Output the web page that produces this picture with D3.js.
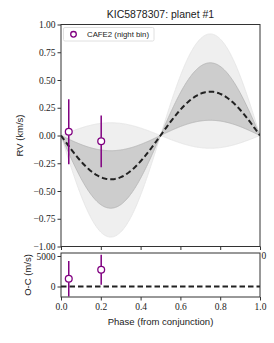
<!DOCTYPE html>
<html>
<head>
<meta charset="utf-8">
<script src="https://cdn.jsdelivr.net/npm/d3@7"></script>
<style>
  body { margin: 0; background: #fff; }
</style>
</head>
<body>
<script>
// data
var phase = [0.039, 0.202];
var rv = [0.034, -0.052];
var rvErr = [0.293, 0.233];
var oc = [1270, 2750];
var ocErr = [2900, 2450];

// model: rv = -K sin(2 pi phase)
var kMed = 0.395;
var kInner = [0.137, 0.655];
var kOuter = [-0.115, 0.915];

var rvTicks = [1.0, 0.75, 0.5, 0.25, 0, -0.25, -0.5, -0.75, -1.0];
var ocTicks = [5000, 0];
var phaseTicks = [0, 0.2, 0.4, 0.6, 0.8, 1.0];

var width = 274, height = 343;
var left = 61, right = 260;
var top1 = 24.5, bot1 = 246.5;
var top2 = 253, bot2 = 297;
var purple = "#800080";
var ink = "#333";
var serif = "'Liberation Serif', 'DejaVu Serif', serif";
var sans = "'Liberation Sans', 'DejaVu Sans', sans-serif";

var svg = d3.select("body").append("svg")
	.attr("width", width)
	.attr("height", height);

var x = d3.scaleLinear().domain([0, 1]).range([left, right]);
var y = d3.scaleLinear().domain([-1, 1]).range([bot1, top1]);
var y2 = d3.scaleLinear().domain([-1720, 5490]).range([bot2, top2]);

var grid = d3.range(0, 1.0001, 0.005);
function model(k) { return function(p) { return -k * Math.sin(2 * Math.PI * p); }; }

function styleAxis(g) {
	g.select(".domain").remove();
	g.selectAll("line").style("stroke", ink);
	g.selectAll("text")
		.style("font-family", serif)
		.style("font-size", "9.5px")
		.style("fill", "#222");
}

svg.append("clipPath").attr("id", "clip1")
	.append("rect").attr("x", left).attr("y", top1).attr("width", right - left).attr("height", bot1 - top1);

var g1 = svg.append("g").attr("clip-path", "url(#clip1)");

function band(k, fill, stroke) {
	var a = model(k[0]), b = model(k[1]);
	g1.append("path")
		.datum(grid)
		.attr("d", d3.area()
			.x(function(p) { return x(p); })
			.y0(function(p) { return y(a(p)); })
			.y1(function(p) { return y(b(p)); }))
		.style("fill", fill)
		.style("stroke", stroke)
		.style("stroke-width", 0.8);
}
band(kOuter, "#efefef", "#e4e4e4");
band(kInner, "#cdcdcd", "#b5b5b5");

var med = model(kMed);
g1.append("path")
	.datum(grid)
	.attr("d", d3.line().x(function(p) { return x(p); }).y(function(p) { return y(med(p)); }))
	.style("fill", "none")
	.style("stroke", "#222")
	.style("stroke-width", 2)
	.style("stroke-dasharray", "5.5,3");

// rv points
svg.selectAll(".rv-err")
	.data(phase)
	.enter()
	.append("line")
	.attr("class", "rv-err")
	.attr("x1", function(d) { return x(d); })
	.attr("x2", function(d) { return x(d); })
	.attr("y1", function(d, i) { return y(rv[i] - rvErr[i]); })
	.attr("y2", function(d, i) { return y(rv[i] + rvErr[i]); })
	.style("stroke", purple)
	.style("stroke-width", 1.5);

svg.selectAll(".rv-pt")
	.data(phase)
	.enter()
	.append("circle")
	.attr("class", "rv-pt")
	.attr("cx", function(d) { return x(d); })
	.attr("cy", function(d, i) { return y(rv[i]); })
	.attr("r", 3.4)
	.style("fill", "#fff")
	.style("stroke", purple)
	.style("stroke-width", 1.3);

// top panel frame + axes
svg.append("rect")
	.attr("x", left).attr("y", top1).attr("width", right - left).attr("height", bot1 - top1)
	.style("fill", "none").style("stroke", ink).style("stroke-width", 1);

svg.append("g")
	.attr("transform", "translate(" + left + ",0)")
	.call(d3.axisLeft(y).tickValues(rvTicks).tickFormat(d3.format(".2f")).tickSize(3.5).tickPadding(2))
	.call(styleAxis);

svg.append("g")
	.attr("transform", "translate(0," + bot1 + ")")
	.call(d3.axisBottom(x).tickValues(phaseTicks).tickFormat("").tickSize(3.5))
	.call(styleAxis);

// legend
var lg = svg.append("g");
lg.append("rect")
	.attr("x", 63.5).attr("y", 27.5).attr("width", 90.5).attr("height", 13.5).attr("rx", 1.5)
	.style("fill", "#fff").style("stroke", "#d8d8d8").style("stroke-width", 0.8);
lg.append("circle")
	.attr("cx", 73.5).attr("cy", 34.3).attr("r", 2.8)
	.style("fill", "#fff").style("stroke", purple).style("stroke-width", 1.3);
lg.append("text")
	.attr("x", 87).attr("y", 37)
	.attr("textLength", 62)
	.attr("lengthAdjust", "spacingAndGlyphs")
	.style("font-family", sans).style("font-size", "8px").style("fill", "#222")
	.text("CAFE2 (night bin)");

// lower panel
svg.append("clipPath").attr("id", "clip2")
	.append("rect").attr("x", left).attr("y", top2).attr("width", right - left).attr("height", bot2 - top2);
var g2 = svg.append("g").attr("clip-path", "url(#clip2)");

g2.append("line")
	.attr("x1", x(0)).attr("x2", x(1)).attr("y1", y2(0)).attr("y2", y2(0))
	.style("stroke", "#222").style("stroke-width", 2).style("stroke-dasharray", "5.5,3");

g2.selectAll(".oc-err")
	.data(phase)
	.enter()
	.append("line")
	.attr("class", "oc-err")
	.attr("x1", function(d) { return x(d); })
	.attr("x2", function(d) { return x(d); })
	.attr("y1", function(d, i) { return y2(oc[i] - ocErr[i]); })
	.attr("y2", function(d, i) { return y2(oc[i] + ocErr[i]); })
	.style("stroke", purple)
	.style("stroke-width", 1.5);

g2.selectAll(".oc-pt")
	.data(phase)
	.enter()
	.append("circle")
	.attr("class", "oc-pt")
	.attr("cx", function(d) { return x(d); })
	.attr("cy", function(d, i) { return y2(oc[i]); })
	.attr("r", 3.4)
	.style("fill", "#fff")
	.style("stroke", purple)
	.style("stroke-width", 1.3);

svg.append("rect")
	.attr("x", left).attr("y", top2).attr("width", right - left).attr("height", bot2 - top2)
	.style("fill", "none").style("stroke", ink).style("stroke-width", 1);

svg.append("g")
	.attr("transform", "translate(" + left + ",0)")
	.call(d3.axisLeft(y2).tickValues(ocTicks).tickFormat(d3.format("d")).tickSize(3.5).tickPadding(2))
	.call(styleAxis);

svg.append("g")
	.attr("transform", "translate(0," + bot2 + ")")
	.call(d3.axisBottom(x).tickValues(phaseTicks).tickFormat(d3.format(".1f")).tickSize(3.5).tickPadding(3))
	.call(styleAxis);

// stray offset label at the right of the lower panel
svg.append("text")
	.attr("x", right + 1.5).attr("y", y2(5000) + 3.5)
	.style("font-family", serif).style("font-size", "9.5px").style("fill", "#222")
	.text("0");

// titles and axis labels
svg.append("text")
	.attr("x", (left + right) / 2).attr("y", 18)
	.attr("text-anchor", "middle")
	.style("font-family", sans).style("font-size", "10.5px").style("fill", "#222")
	.text("KIC5878307: planet #1");

svg.append("text")
	.attr("transform", "translate(23," + y(0) + ") rotate(-90)")
	.attr("text-anchor", "middle")
	.style("font-family", sans).style("font-size", "9.5px").style("fill", "#222")
	.text("RV (km/s)");

svg.append("text")
	.attr("transform", "translate(31," + (top2 + bot2) / 2 + ") rotate(-90)")
	.attr("text-anchor", "middle")
	.style("font-family", sans).style("font-size", "9.5px").style("fill", "#222")
	.text("O-C (m/s)");

svg.append("text")
	.attr("x", (left + right) / 2).attr("y", 325)
	.attr("text-anchor", "middle")
	.style("font-family", sans).style("font-size", "9.5px").style("fill", "#222")
	.text("Phase (from conjunction)");
</script>
</body>
</html>
